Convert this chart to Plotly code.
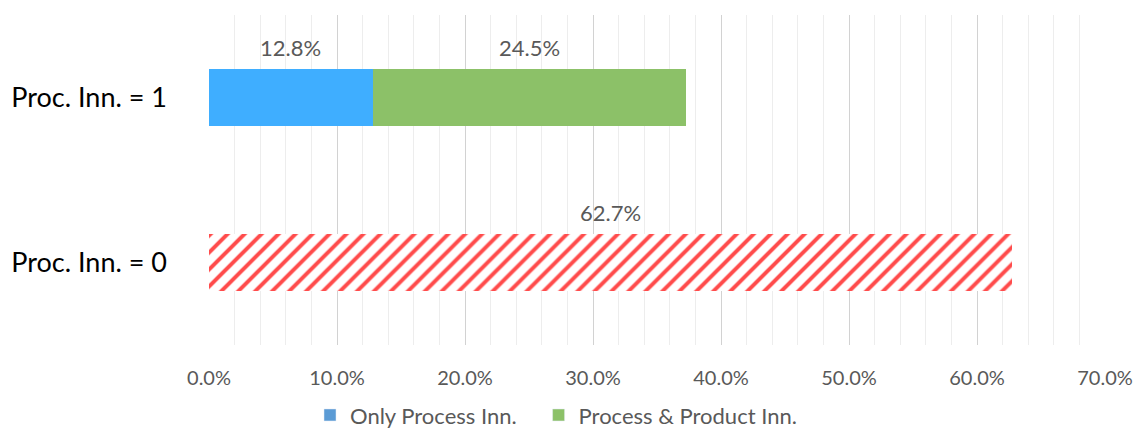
import plotly.graph_objects as go

categories = ["Proc. Inn. = 0", "Proc. Inn. = 1"]
only_process = [0, 12.8]
process_product = [0, 24.5]
no_process = [62.7, 0]
x_ticks = [0, 10, 20, 30, 40, 50, 60, 70]

FONT = "Lato"
TXT = "#595959"
NB = "\u00a0"

fig = go.Figure()
# real bars
fig.add_trace(go.Bar(y=categories, x=only_process, orientation="h",
                     marker=dict(color="#3FAEFF", line=dict(width=0)),
                     showlegend=False, hoverinfo="skip"))
fig.add_trace(go.Bar(y=categories, x=process_product, orientation="h",
                     marker=dict(color="#8CC168", line=dict(width=0)),
                     showlegend=False, hoverinfo="skip"))
fig.add_trace(go.Bar(y=categories, x=no_process, orientation="h",
                     marker=dict(color="white", line=dict(width=0),
                                 pattern=dict(shape="/", fgcolor="#FF4B4B", bgcolor="white",
                                              size=12, solidity=0.33, fillmode="replace")),
                     showlegend=False, hoverinfo="skip"))
# legend entries
fig.add_trace(go.Bar(y=[None], x=[None], orientation="h",
                     name="Only Process Inn." + NB * 3,
                     marker=dict(color="#5B9BD5")))
fig.add_trace(go.Bar(y=[None], x=[None], orientation="h", name="Process & Product Inn.",
                     marker=dict(color="#8CC168")))

# data labels above segments
labels = [
    (only_process[1] / 2, categories[1], only_process[1]),
    (only_process[1] + process_product[1] / 2, categories[1], process_product[1]),
    (no_process[0] / 2, categories[0], no_process[0]),
]
for xv, cat, val in labels:
    fig.add_annotation(x=xv, y=cat, text=f"{val:.1f}%", showarrow=False,
                       yshift=50, font=dict(family=FONT, size=22, color=TXT))

fig.update_layout(
    width=1136, height=428,
    margin=dict(l=209, r=31, t=15, b=83, autoexpand=False),
    plot_bgcolor="white", paper_bgcolor="white",
    barmode="stack", bargap=0.655,
    font=dict(family=FONT, color=TXT),
    legend=dict(orientation="h", x=310 / 1136, xanchor="left", xref="container",
                y=0.030, yanchor="middle", yref="container",
                font=dict(family=FONT, size=22, color=TXT), itemwidth=30,
                traceorder="normal"),
)
fig.update_xaxes(range=[0, 70], tickvals=x_ticks,
                 ticktext=[f"{v:.1f}%" for v in x_ticks],
                 showgrid=True, gridcolor="#D2D2D2", gridwidth=1,
                 minor=dict(dtick=2, showgrid=True, gridcolor="#EDEDED", gridwidth=1),
                 zeroline=False, showline=False, ticks="",
                 tickfont=dict(family=FONT, size=20, color=TXT),
                 ticklabelstandoff=19, fixedrange=True, automargin=False)
fig.update_yaxes(categoryorder="array", categoryarray=categories,
                 showgrid=False, zeroline=False, showline=False, ticks="",
                 tickfont=dict(family=FONT, size=27, color="#000000"),
                 ticklabelstandoff=41, fixedrange=True, automargin=False)

fig.write_html("out.html")
